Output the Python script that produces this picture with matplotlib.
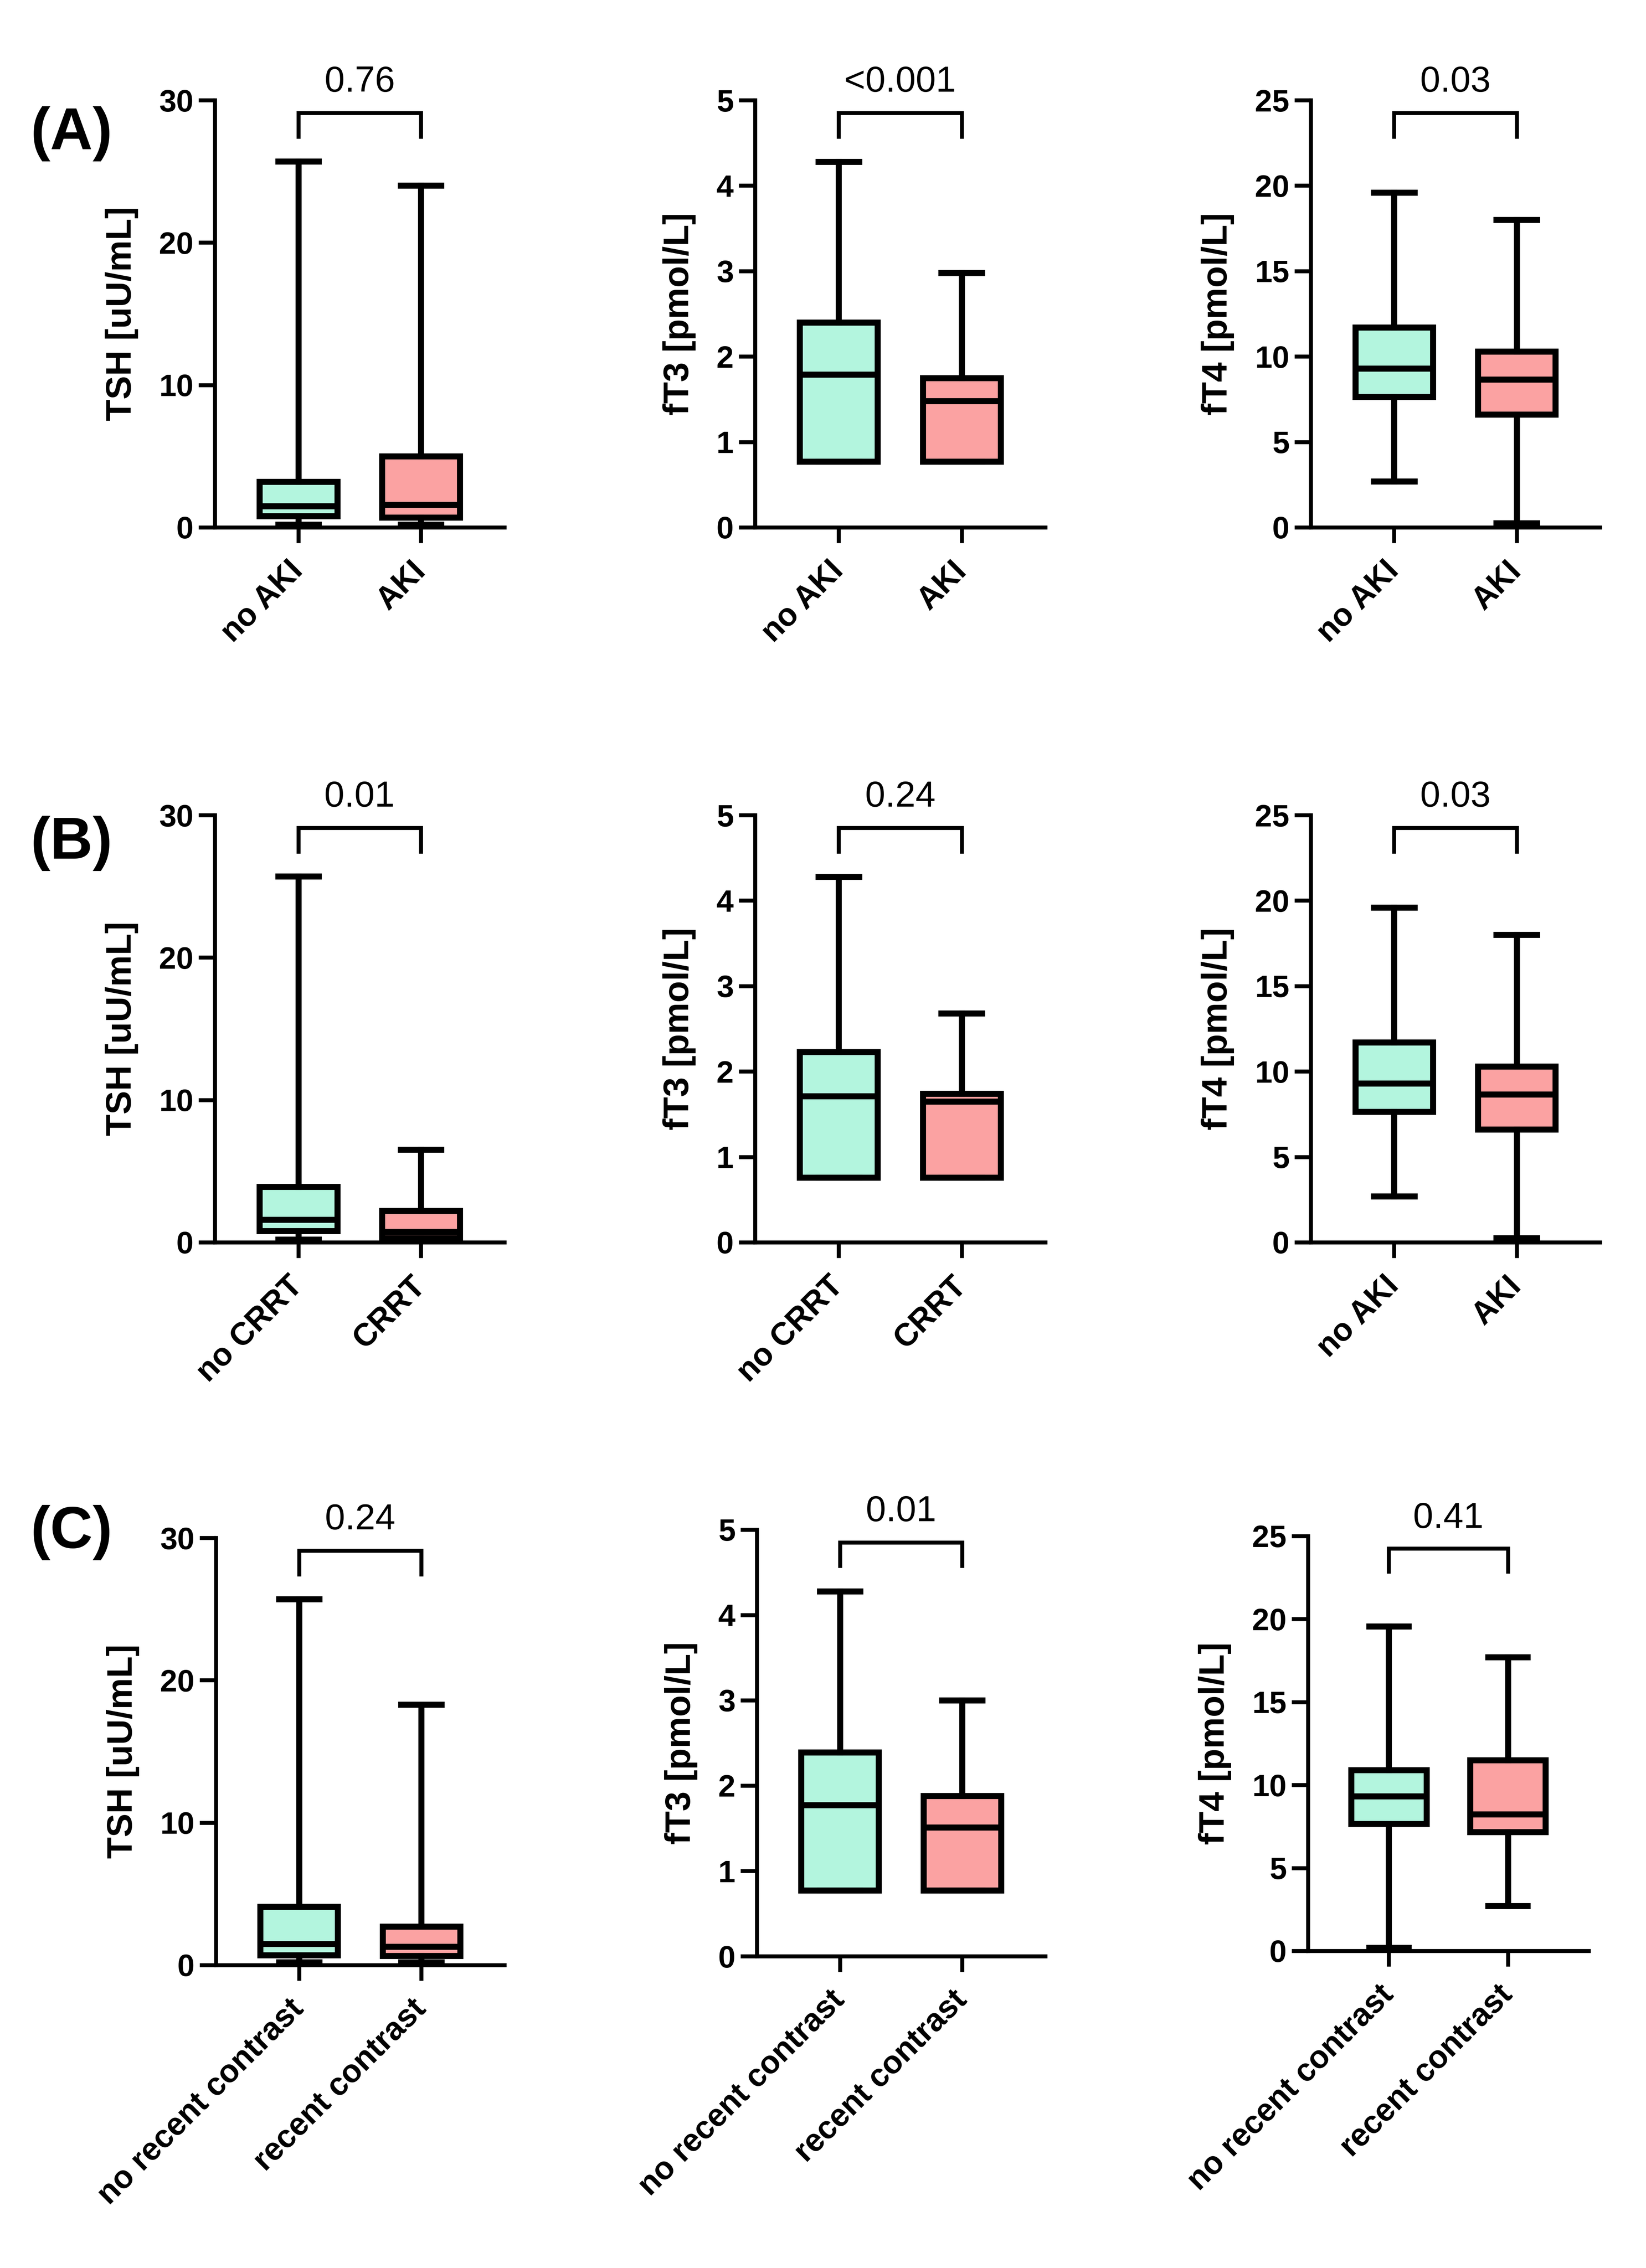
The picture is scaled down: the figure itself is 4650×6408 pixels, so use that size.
import matplotlib
matplotlib.use("Agg")
import matplotlib.pyplot as plt

plt.rcParams['font.family'] = ['Liberation Sans', 'DejaVu Sans']

# categories
cats_aki = ["no AKI", "AKI"]
cats_crrt = ["no CRRT", "CRRT"]
cats_contrast = ["no recent contrast", "recent contrast"]

# box stats: [min, q1, median, q3, max]
tsh_a_no = [0.2, 0.8, 1.5, 3.2, 25.7]
tsh_a_yes = [0.2, 0.7, 1.6, 5.0, 24.0]
ft3_a_no = [0.77, 0.77, 1.79, 2.40, 4.28]
ft3_a_yes = [0.77, 0.77, 1.48, 1.75, 2.98]
ft4_a_no = [2.7, 7.65, 9.3, 11.7, 19.6]
ft4_a_yes = [0.24, 6.6, 8.65, 10.3, 18.0]

tsh_b_no = [0.2, 0.8, 1.6, 3.9, 25.7]
tsh_b_yes = [0.2, 0.3, 0.75, 2.2, 6.5]
ft3_b_no = [0.76, 0.76, 1.71, 2.23, 4.28]
ft3_b_yes = [0.76, 0.76, 1.65, 1.74, 2.68]
ft4_b_no = [2.7, 7.65, 9.3, 11.7, 19.6]
ft4_b_yes = [0.24, 6.6, 8.65, 10.3, 18.0]

tsh_c_no = [0.2, 0.7, 1.5, 4.1, 25.7]
tsh_c_yes = [0.2, 0.65, 1.3, 2.7, 18.3]
ft3_c_no = [0.77, 0.77, 1.77, 2.39, 4.28]
ft3_c_yes = [0.77, 0.77, 1.51, 1.88, 3.0]
ft4_c_no = [0.2, 7.66, 9.32, 10.9, 19.56]
ft4_c_yes = [2.7, 7.17, 8.24, 11.5, 17.7]

# p-values per row
p_a = ["0.76", "<0.001", "0.03"]
p_b = ["0.01", "0.24", "0.03"]
p_c = ["0.24", "0.01", "0.41"]

ylabels = ["TSH [uU/mL]", "fT3 [pmol/L]", "fT4 [pmol/L]"]
ymax = [30, 5, 25]
ysteps = [10, 1, 5]
row_labels = ["(A)", "(B)", "(C)"]

W, H = 4650, 6408
fig = plt.figure(figsize=(W / 300, H / 300), dpi=300)

# axes boxes in pixels: (spine x, right x, top y, bottom y)
boxes = [
    [(607, 1425, 283, 1490), (2133, 2953, 283, 1490), (3703, 4520, 283, 1490)],
    [(607, 1425, 2303, 3510), (2133, 2953, 2303, 3510), (3703, 4520, 2303, 3510)],
    [(610, 1425, 4345, 5552), (2138, 2953, 4322, 5527), (3695, 4488, 4340, 5512)],
]

rows = [
    ([(tsh_a_no, tsh_a_yes), (ft3_a_no, ft3_a_yes), (ft4_a_no, ft4_a_yes)], p_a),
    ([(tsh_b_no, tsh_b_yes), (ft3_b_no, ft3_b_yes), (ft4_b_no, ft4_b_yes)], p_b),
    ([(tsh_c_no, tsh_c_yes), (ft3_c_no, ft3_c_yes), (ft4_c_no, ft4_c_yes)], p_c),
]
row_cats = [[cats_aki] * 3, [cats_crrt, cats_crrt, cats_aki], [cats_contrast] * 3]

colors = ["#b3f5de", "#fba2a2"]
label_pos = [378, 2383, 4330]
lw_box = 4.1
lw_axis = 2.7

for r, (panel_data, pvals) in enumerate(rows):
    for c in range(3):
        x0, x1, y0, y1 = boxes[r][c]
        ax = fig.add_axes([x0 / W, 1 - y1 / H, (x1 - x0) / W, (y1 - y0) / H])
        stats = []
        for vals, name in zip(panel_data[c], row_cats[r][c]):
            stats.append(dict(whislo=vals[0], q1=vals[1], med=vals[2],
                              q3=vals[3], whishi=vals[4], fliers=[], label=name))
        bp = ax.bxp(stats, positions=[1, 2], widths=0.634, capwidths=0.33,
                    patch_artist=True, showfliers=False,
                    boxprops=dict(linewidth=lw_box, edgecolor='black'),
                    medianprops=dict(linewidth=lw_box, color='black'),
                    whiskerprops=dict(linewidth=lw_box, color='black'),
                    capprops=dict(linewidth=lw_box, color='black'))
        for patch, col in zip(bp['boxes'], colors):
            patch.set_facecolor(col)
        for cap in bp['caps']:
            cap.set_clip_on(False)

        top = ymax[c]
        ax.set_xlim(0.32, 2.68)
        ax.set_ylim(0, top)
        ax.set_yticks(range(0, top + 1, ysteps[c]))
        for s in ['top', 'right']:
            ax.spines[s].set_visible(False)
        for s in ['left', 'bottom']:
            ax.spines[s].set_linewidth(lw_axis)
        ax.tick_params(axis='y', length=11, width=lw_axis, pad=3.5, labelsize=21)
        ax.tick_params(axis='x', length=10.5, width=lw_axis, pad=16, labelsize=21.5)
        for t in ax.get_yticklabels():
            t.set_fontweight('bold')
        ax.set_xticklabels(row_cats[r][c], rotation=45, ha='right', va='center',
                           rotation_mode='anchor', fontweight='bold')
        ax.set_ylabel(ylabels[c], fontsize=24, fontweight='bold', labelpad=14)

        # significance bracket
        yb, yl = 0.97 * top, 0.915 * top
        ax.plot([1, 1, 2, 2], [yl, yb, yb, yl], color='black', lw=lw_axis,
                clip_on=False, solid_joinstyle='miter')
        ax.text(1.5, 1.042 * top, pvals[c], ha='center', va='center',
                fontsize=24.5, clip_on=False)

    fig.text(202 / W, 1 - label_pos[r] / H, row_labels[r], fontsize=40,
             fontweight='bold', ha='center', va='center')

fig.savefig("out.png", dpi=300, facecolor='white')
